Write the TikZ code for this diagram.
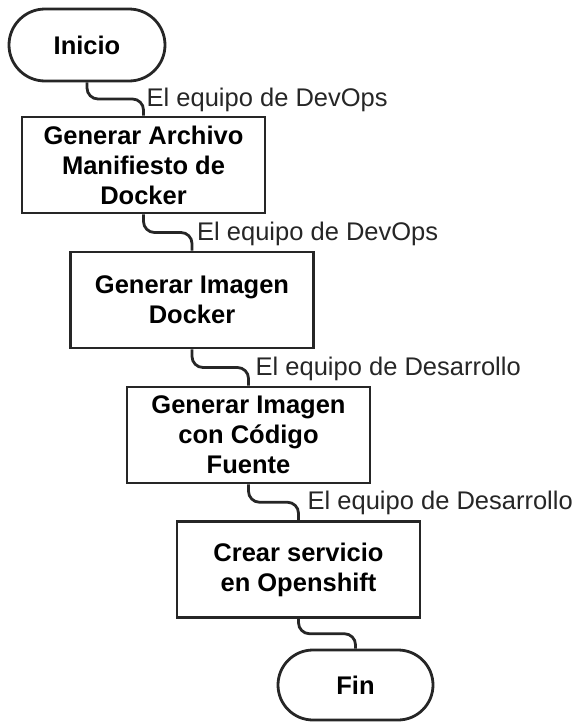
\documentclass[tikz,border=0pt]{standalone}
\usepackage{fontspec}
\setmainfont{Liberation Sans}
\usetikzlibrary{shapes.misc,calc}
\begin{document}
\begin{tikzpicture}[x=1pt,y=1pt,
  stepbox/.style={draw=black!85, line width=2.8pt, rectangle, align=center,
    minimum width=243, minimum height=96, inner sep=0pt, font=\fontsize{25.5}{30}\selectfont\bfseries},
  term/.style={draw=black!85, line width=2.8pt, rounded rectangle, align=center,
    minimum width=156, minimum height=72, inner sep=0pt, font=\fontsize{25.5}{30}\selectfont\bfseries},
  conn/.style={draw=black!85, line width=2.8pt, rounded corners=11pt},
  lab/.style={anchor=west, inner sep=1pt, text=black!85, font=\fontsize{25.5}{30}\selectfont}
]
\useasboundingbox (0,0) rectangle (576,-723);
\node[term] (ini) at (87,-45) {Inicio};
\node[stepbox] (b1) at (143.5,-165) {Generar Archivo\\Manifiesto de\\Docker};
\node[stepbox] (b2) at (192,-300) {Generar Imagen\\Docker};
\node[stepbox] (b3) at (248.5,-435) {Generar Imagen\\con Código\\Fuente};
\node[stepbox] (b4) at (298.5,-569.5) {Crear servicio\\en Openshift};
\node[term, minimum width=155, minimum height=70] (fin) at (355.5,-685) {Fin};

\foreach \a/\b in {ini/b1, b1/b2, b2/b3, b3/b4, b4/fin}{
  \coordinate (m-\a) at ($(\a.south)!0.5!(\b.north)$);
  \draw[conn] (\a.south) |- (m-\a) -| (\b.north);
}
\node[lab] (l1) at ($(m-ini -| b1.north)+(2,-1)$) {El equipo de DevOps};
\node[lab] (l2) at ($(m-b1 -| b2.north)+(4,-1)$) {El equipo de DevOps};
\node[lab] (l3) at ($(m-b2 -| b3.north)+(6,-1)$) {El equipo de Desarrollo};
\node[lab] (l4) at ($(m-b3 -| b4.north)+(8,-1)$) {El equipo de Desarrollo};
\end{tikzpicture}
\end{document}
